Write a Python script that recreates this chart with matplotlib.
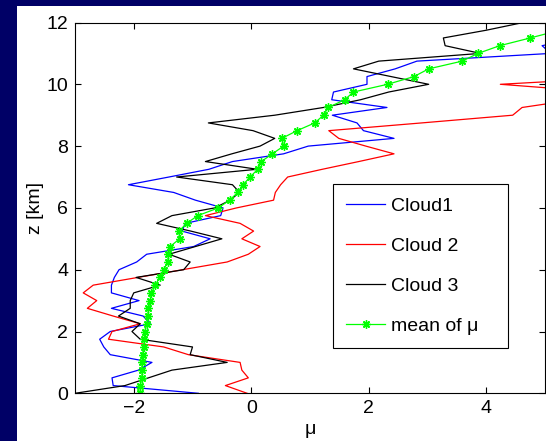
import numpy as np
import matplotlib
matplotlib.use("Agg")
import matplotlib.pyplot as plt
from matplotlib.patches import Rectangle

plt.rcParams['font.family'] = ['Liberation Sans', 'DejaVu Sans']

# altitude levels (km)
z = np.arange(0, 12.01, 0.25)

cloud1 = [-0.90, -2.35, -2.37, -1.92, -1.69, -2.40, -2.51, -2.58, -2.40, -1.72,
          -1.84, -2.38, -1.91, -2.38, -2.38, -2.33, -2.25, -1.95, -1.78, -0.98,
          -0.70, -1.18, -1.12, -0.52, -0.48, -0.95, -1.32, -2.09, -1.40, -0.72,
          -0.32, 0.55, 0.97, 2.43, 1.91, 1.80, 1.38, 2.31, 1.37, 1.40,
          1.97, 1.97, 2.45, 2.82, 5.10, 4.95, 5.60, 6.00, 6.20]

cloud2 = [-0.07, -0.44, -0.05, -0.16, -0.19, -1.07, -1.49, -2.43, -2.37, -1.89,
          -2.35, -2.79, -2.63, -2.86, -2.69, -1.93, -1.17, -0.41, -0.05, 0.15,
          -0.16, 0.04, -0.19, -0.78, -0.25, 0.38, 0.41, 0.50, 0.62, 1.21,
          1.83, 2.43, 1.95, 1.49, 1.32, 2.90, 4.45, 4.61, 5.50, 5.97,
          4.24, 6.60, 6.80, 7.00, 7.00, 7.20, 7.40, 7.50, 7.60]

cloud3 = [-3.00, -2.15, -1.75, -1.35, -0.41, -1.04, -1.00, -1.89, -2.03, -1.89,
          -2.26, -2.06, -2.06, -2.00, -1.55, -1.96, -1.15, -1.04, -1.40, -0.95,
          -0.50, -1.03, -1.61, -1.35, -0.62, -0.36, -0.20, -0.32, -1.27, 0.10,
          -0.78, -0.33, 0.15, 0.40, 0.03, -0.73, 0.40, 1.23, 1.86, 2.34,
          3.02, 2.38, 1.74, 2.17, 3.90, 3.30, 3.27, 4.00, 4.63]

mean_mu = [-1.89, -1.89, -1.86, -1.86, -1.86, -1.85, -1.83, -1.82, -1.81, -1.78,
           -1.76, -1.75, -1.72, -1.70, -1.63, -1.56, -1.49, -1.42, -1.41, -1.38,
           -1.22, -1.23, -1.10, -0.91, -0.56, -0.37, -0.23, -0.14, -0.02, 0.11,
           0.17, 0.36, 0.55, 0.52, 0.78, 1.08, 1.23, 1.31, 1.59, 1.74,
           2.32, 2.77, 3.02, 3.59, 3.86, 4.23, 4.75, 5.25, 5.60]

labels = ['Cloud1', 'Cloud 2', 'Cloud 3', 'mean of \u03bc']

W, H = 546, 441
fig = plt.figure(figsize=(W / 100, H / 100), dpi=100, facecolor='#000066')
# white panel inside the navy frame
fig.patches.append(Rectangle((17 / W, 0), 1 - 17 / W, (H - 6) / H,
                             transform=fig.transFigure, facecolor='white',
                             edgecolor='none', zorder=-10))

ax = fig.add_axes([75 / W, 1 - 393.3 / H, 470 / W, (393.3 - 22.5) / H])

ax.plot(cloud1, z, color='#0000ff', lw=0.9, label=labels[0])
ax.plot(cloud2, z, color='#ff0000', lw=0.9, label=labels[1])
ax.plot(cloud3, z, color='#000000', lw=0.9, label=labels[2])
# matlab-style asterisk markers
ax.plot(mean_mu, z, color='#00ff00', lw=0.9, marker=(8, 2, 0), ms=6,
        mew=1.0, label=labels[3])

ax.set_xlim(-3, 5)
ax.set_ylim(0, 12)
ax.set_xticks([-2, 0, 2, 4])
ax.set_yticks([0, 2, 4, 6, 8, 10, 12])
ax.tick_params(direction='in', length=4, width=0.8, top=True, right=True,
               labelsize=14, pad=5)
for s in ax.spines.values():
    s.set_linewidth(0.8)

ax.set_xlabel('\u03bc', fontsize=14, labelpad=3)
ax.set_ylabel('z [km]', fontsize=14, labelpad=2)

leg = ax.legend(loc='upper left',
                bbox_to_anchor=(333.3 / W, 1 - 347.7 / H, 175 / W, (347.7 - 184.3) / H),
                bbox_transform=fig.transFigure, mode='expand', fontsize=14,
                frameon=True, fancybox=False, framealpha=1, edgecolor='black',
                handlelength=2.0, handletextpad=0.3, labelspacing=1.15,
                borderpad=0.67, borderaxespad=0)
leg.get_frame().set_linewidth(0.8)

fig.savefig('out.png', dpi=100, facecolor=fig.get_facecolor())
